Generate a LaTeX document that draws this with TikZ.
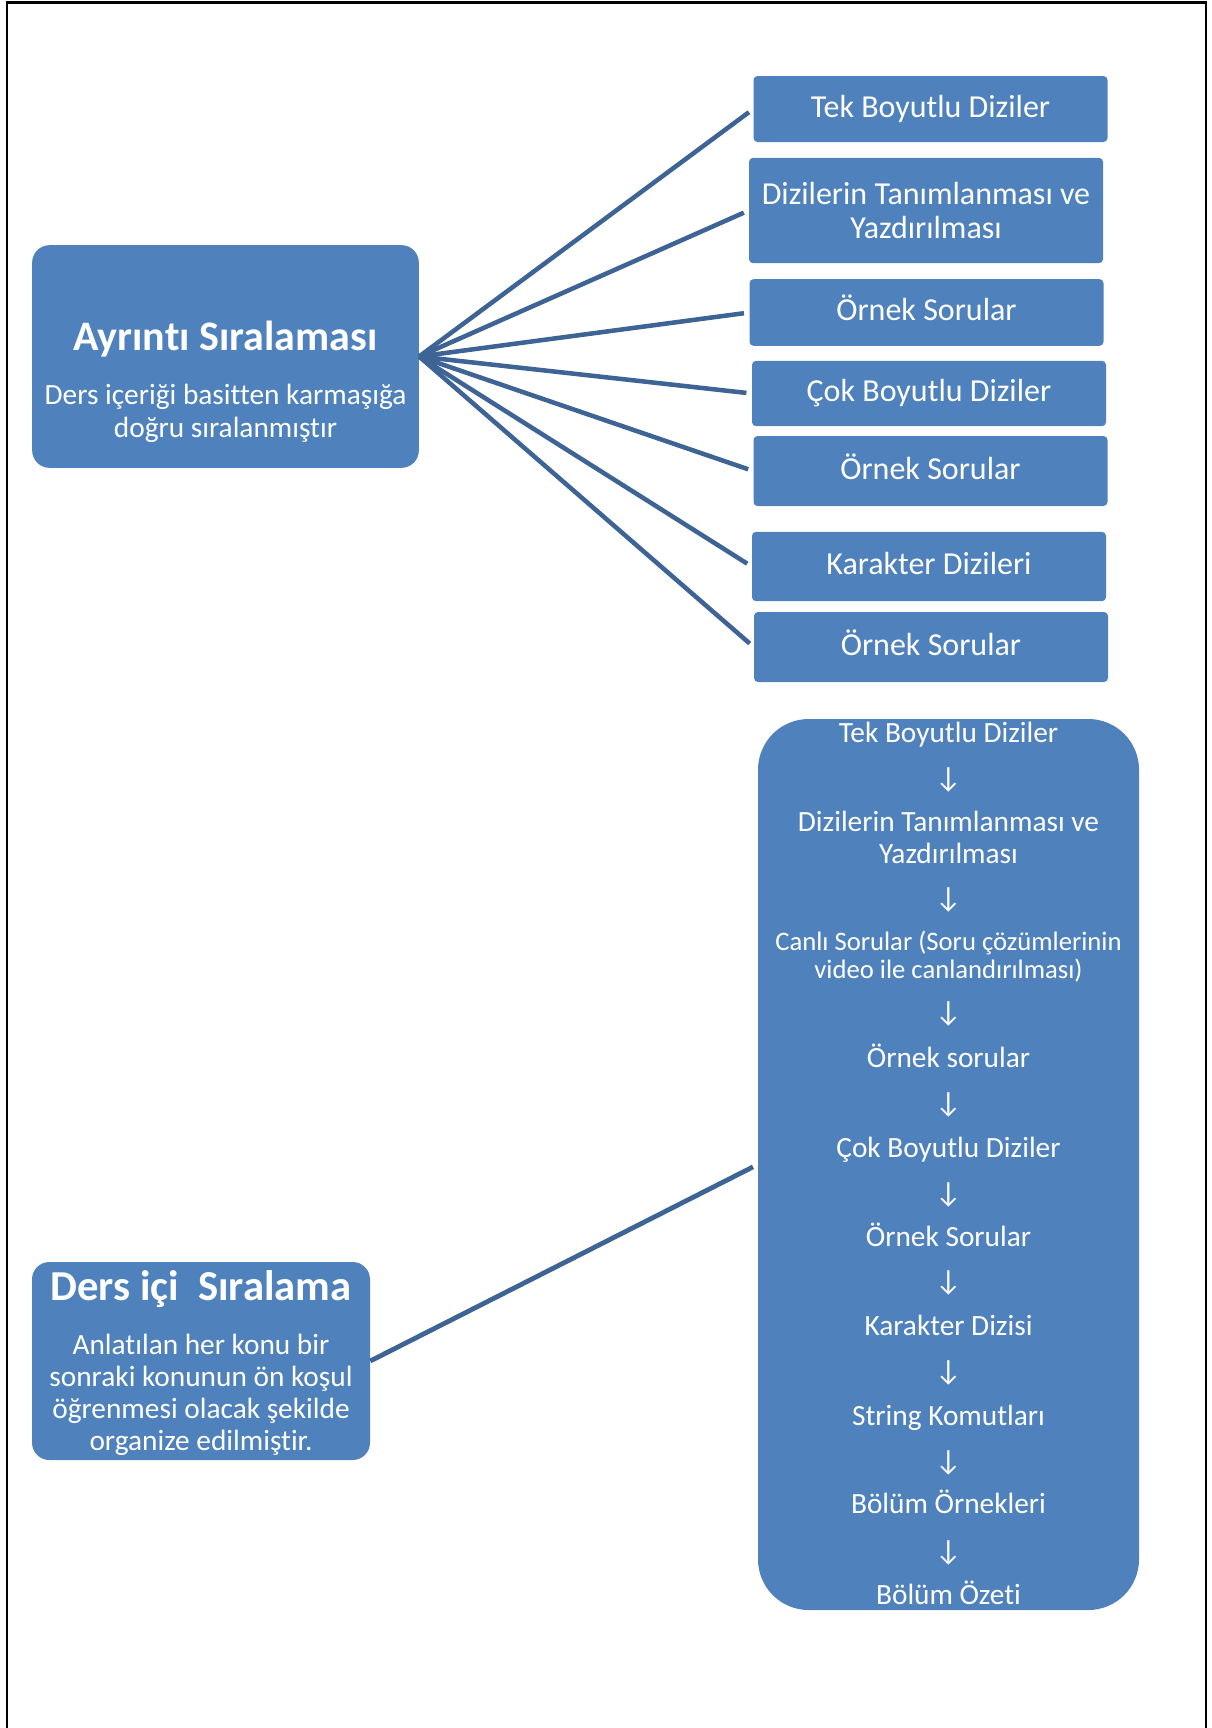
\documentclass[tikz,border=0pt]{standalone}
\usepackage{fontspec}
\setmainfont{Carlito}[Ligatures=NoCommon]
\usepackage{tikz}
\usetikzlibrary{positioning,calc}

\definecolor{boxblue}{HTML}{4F81BD}
\definecolor{linkblue}{HTML}{3E6496}

\tikzset{
  bluebox/.style={fill=boxblue, draw=none, text=white, align=center, inner sep=0pt},
  topicbox/.style={bluebox, rounded corners=3pt, minimum width=265.5pt, font=\fontsize{24}{25.5}\selectfont},
  onelinebox/.style={topicbox, text height=18pt, text depth=6pt},
  headbox/.style={bluebox, rounded corners=13pt},
  headtitle/.style={text=white, font=\bfseries\fontsize{31.5}{36}\selectfont, inner sep=0pt, anchor=base},
  flowtext/.style={text=white, align=center, inner sep=0pt, anchor=base, font=\fontsize{22}{23.5}\selectfont},
  flowarrow/.style={text=white, inner sep=0pt, font=\fontsize{22}{24}\selectfont},
  fanline/.style={linkblue, line width=3.4pt, shorten >=4pt},
}

\begin{document}
\begin{tikzpicture}[x=0.75pt, y=-0.75pt]
  \useasboundingbox (0,0) rectangle (1211,1728);

  % page frame (open at the bottom)
  \draw[line width=1.8pt] (7,1728) -- (7,2.5) -- (1206,2.5) -- (1206,1728);

  % Ayrıntı Sıralaması
  \node[headbox, minimum width=290pt, minimum height=167pt] (ayrinti) at (225.5,356.5) {};
  \node[headtitle] (ayrintititle) at (225.5,350) {Ayrıntı Sıralaması};
  \node[flowtext, font=\fontsize{22}{24.5}\selectfont] (ayrintibody) at (225.5,437)
    {Ders içeriği basitten karmaşığa\\doğru sıralanmıştır};

  % topic boxes on the right
  \node[onelinebox, minimum height=49.5pt] (tek) at (930.5,109) {Tek Boyutlu Diziler};
  \node[topicbox, minimum height=79pt] (tanim) at (926,210.5) {Dizilerin Tanımlanması ve\\Yazdırılması};
  \node[onelinebox, minimum height=50pt] (ornekA) at (926.5,312.5) {Örnek Sorular};
  \node[onelinebox, minimum height=49pt] (cok) at (929,393.5) {Çok Boyutlu Diziler};
  \node[onelinebox, minimum height=52.5pt] (ornekB) at (930.5,471) {Örnek Sorular};
  \node[onelinebox, minimum height=52pt] (karakter) at (929,566.5) {Karakter Dizileri};
  \node[onelinebox, minimum height=52.5pt] (ornekC) at (931,647) {Örnek Sorular};

  % fan of links
  \draw[fanline] (ayrinti.east) -- (tek.west);
  \draw[fanline] (ayrinti.east) -- (tanim.west);
  \draw[fanline] (ayrinti.east) -- (ornekA.west);
  \draw[fanline] (ayrinti.east) -- (cok.west);
  \draw[fanline] (ayrinti.east) -- (ornekB.west);
  \draw[fanline] (ayrinti.east) -- (karakter.west);
  \draw[fanline] (ayrinti.east) -- (ornekC.west);

  % Ders içi Sıralama
  \node[headbox, minimum width=253.5pt, minimum height=148.5pt] (dersici) at (201,1361) {};
  \node[headtitle, font=\bfseries\fontsize{32}{36}\selectfont] (dersicititle) at (201,1300) {Ders içi\ \ Sıralama};
  \node[flowtext, font=\fontsize{22}{23.8}\selectfont] (dersicibody) at (201,1450)
    {Anlatılan her konu bir\\sonraki konunun ön koşul\\öğrenmesi olacak şekilde\\organize edilmiştir.};

  % lesson flow
  \node[headbox, rounded corners=38pt, minimum width=285.75pt, minimum height=668.25pt] (flow) at (948.5,1164.5) {};
  \draw[linkblue, line width=3.6pt, shorten >=4pt] (dersici.east) -- (flow.west);

  \node[flowtext] (f1) at (948.5,742) {Tek Boyutlu Diziler};
  \node[flowarrow] (a1) at (948.5,780) {↓};
  \node[flowtext] (f2) at (948.5,863) {Dizilerin Tanımlanması ve\\Yazdırılması};
  \node[flowarrow] (a2) at (948.5,900) {↓};
  \node[flowtext, font=\fontsize{20}{20.3}\selectfont] (f3) at (948.5,978) {Canlı Sorular (Soru çözümlerinin\\video ile canlandırılması)};
  \node[flowarrow] (a3) at (948.5,1014) {↓};
  \node[flowtext] (f4) at (948.5,1067) {Örnek sorular};
  \node[flowarrow] (a4) at (948.5,1105) {↓};
  \node[flowtext] (f5) at (948.5,1157) {Çok Boyutlu Diziler};
  \node[flowarrow] (a5) at (948.5,1195) {↓};
  \node[flowtext] (f6) at (948.5,1246) {Örnek Sorular};
  \node[flowarrow] (a6) at (948.5,1283) {↓};
  \node[flowtext] (f7) at (948.5,1335) {Karakter Dizisi};
  \node[flowarrow] (a7) at (948.5,1373) {↓};
  \node[flowtext] (f8) at (948.5,1425) {String Komutları};
  \node[flowarrow] (a8) at (948.5,1463) {↓};
  \node[flowtext] (f9) at (948.5,1513) {Bölüm Örnekleri};
  \node[flowarrow] (a9) at (948.5,1553) {↓};
  \node[flowtext] (f10) at (948.5,1604) {Bölüm Özeti};

\end{tikzpicture}
\end{document}
